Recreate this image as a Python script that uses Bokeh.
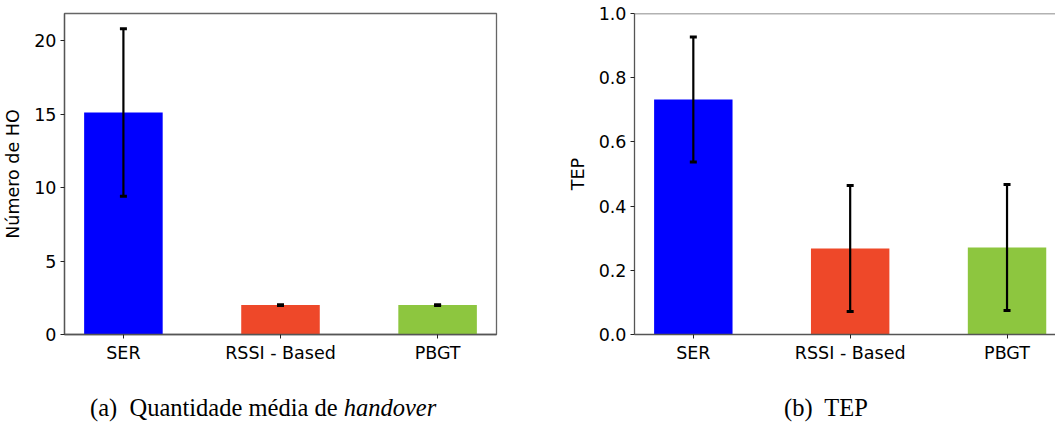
from bokeh.plotting import figure
from bokeh.layouts import row, column
from bokeh.models import Div, Span, FixedTicker, Range1d
from bokeh.embed import file_html
from bokeh.resources import INLINE

categories = ["SER", "RSSI - Based", "PBGT"]
colors = ["#0000FF", "#EE4829", "#8DC63F"]

ho_mean = [15.1, 2.0, 2.0]
ho_std = [5.7, 0.03, 0.03]

tep_mean = [0.732, 0.268, 0.271]
tep_std = [0.195, 0.196, 0.196]

ho_ticks = [0, 5, 10, 15, 20]
tep_ticks = [0.0, 0.2, 0.4, 0.6, 0.8, 1.0]

FONT = "DejaVu Sans"
FS = "17.5px"


def make_plot(means, stds, ylabel, y_end, ticks, x_end, left_border, right_border, full_outline):
    xs = list(range(len(categories)))
    p = figure(output_backend="svg", toolbar_location=None,
               frame_width=int(round((x_end + 0.375) * 157)), frame_height=321,
               x_range=Range1d(-0.375, x_end), y_range=Range1d(0, y_end),
               min_border_left=left_border, min_border_right=right_border,
               min_border_top=13, min_border_bottom=36)
    p.vbar(x=xs, top=means, width=0.5, bottom=0, color=colors, line_color=None)
    lo = [m - s for m, s in zip(means, stds)]
    hi = [m + s for m, s in zip(means, stds)]
    p.segment(x0=xs, y0=lo, x1=xs, y1=hi, line_color="black", line_width=2.2)
    p.rect(x=xs + xs, y=lo + hi, width=7, height=3, width_units="screen",
           height_units="screen", fill_color="black", line_color=None)
    p.grid.visible = False
    p.background_fill_color = "white"
    p.border_fill_color = "white"
    if full_outline:
        p.outline_line_color = "#666666"
        p.outline_line_width = 1.3
    else:
        p.outline_line_color = None
        p.add_layout(Span(location=y_end, dimension="width", line_color="#666666", line_width=1.3))
    p.xaxis.ticker = FixedTicker(ticks=xs)
    p.xaxis.major_label_overrides = {i: c for i, c in enumerate(categories)}
    p.yaxis.ticker = FixedTicker(ticks=ticks)
    if isinstance(ticks[0], float):
        p.yaxis.major_label_overrides = {t: f"{t:.1f}" for t in ticks}
    for ax in (p.xaxis, p.yaxis):
        ax.axis_line_color = "#555555"
        ax.axis_line_width = 1.3
        ax.major_tick_line_color = "#222222"
        ax.major_tick_out = 4
        ax.major_tick_in = 0
        ax.minor_tick_line_color = None
        ax.major_label_text_font = FONT
        ax.major_label_text_font_size = FS
        ax.major_label_text_color = "black"
        ax.major_label_standoff = 4
    p.yaxis.axis_label = ylabel
    p.yaxis.axis_label_text_font = FONT
    p.yaxis.axis_label_text_font_size = FS
    p.yaxis.axis_label_text_font_style = "normal"
    p.yaxis.axis_label_text_color = "black"
    p.yaxis.axis_label_standoff = 8
    return p


p1 = make_plot(ho_mean, ho_std, "Número de HO", 21.84, ho_ticks, 2.375, 64, 64, True)
p2 = make_plot(tep_mean, tep_std, "TEP", 1.0, tep_ticks, 2.309, 74, 0, False)

cap_styles = {"font-family": "Liberation Serif", "font-size": "24.5px", "color": "black",
              "text-align": "left", "white-space": "nowrap"}
d1 = Div(text="(a)&nbsp; Quantidade média de <i>handover</i>", width=400, height=40,
         styles=cap_styles, margin=(20, 0, 0, 90))
d2 = Div(text="(b)&nbsp; TEP", width=200, height=40,
         styles=cap_styles, margin=(20, 0, 0, 224))

layout = row(column(p1, d1, spacing=0), column(p2, d2, spacing=0), spacing=0)

open("out.html", "w").write(file_html(layout, INLINE))
